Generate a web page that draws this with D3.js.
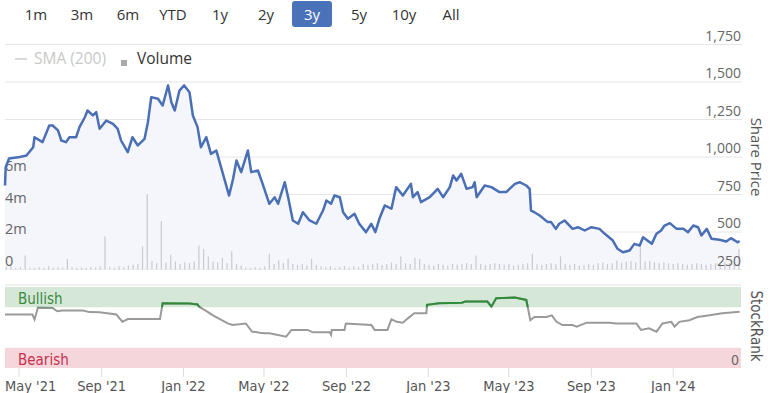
<!DOCTYPE html>
<html>
<head>
<meta charset="utf-8">
<script src="https://cdn.jsdelivr.net/npm/d3@7"></script>
<style>
  html, body { margin: 0; padding: 0; background: #fff; }
  svg { display: block; }
  .ui { font-family: "Open Sans", "Noto Sans", sans-serif; }
  .cond { font-family: "DejaVu Sans Condensed", "DejaVu Sans", sans-serif; font-stretch: condensed; }
</style>
</head>
<body>
<svg id="chart" width="770" height="393"></svg>
<script>
// ---------------- DATA ----------------
const rangeButtons = ["1m", "3m", "6m", "YTD", "1y", "2y", "3y", "5y", "10y", "All"];
const activeButton = "3y";

const priceTicks = [250, 500, 750, 1000, 1250, 1500, 1750];
const volumeTicks = [0, 2, 4, 6];          // millions
const volumeTickLabels = ["0", "2m", "4m", "6m"];
const xTickDates = ["2021-05-01", "2021-09-01", "2022-01-01", "2022-05-01", "2022-09-01",
                    "2023-01-01", "2023-05-01", "2023-09-01", "2024-01-01"];
const xTickLabels = ["May '21", "Sep '21", "Jan '22", "May '22", "Sep '22",
                     "Jan '23", "May '23", "Sep '23", "Jan '24"];

const priceDates = ["2021-04-10","2021-04-11","2021-04-16","2021-05-02","2021-05-12","2021-05-22","2021-05-24","2021-06-05","2021-06-15","2021-06-20","2021-06-28","2021-07-03","2021-07-10","2021-07-15","2021-07-25","2021-07-30","2021-08-07","2021-08-11","2021-08-19","2021-08-24","2021-08-29","2021-09-08","2021-09-18","2021-09-25","2021-09-30","2021-10-10","2021-10-17","2021-10-25","2021-11-04","2021-11-09","2021-11-14","2021-11-24","2021-12-01","2021-12-09","2021-12-14","2021-12-19","2021-12-26","2022-01-02","2022-01-10","2022-01-15","2022-01-22","2022-01-27","2022-02-04","2022-02-11","2022-02-19","2022-02-26","2022-03-10","2022-03-16","2022-03-21","2022-03-28","2022-04-07","2022-04-12","2022-04-22","2022-04-29","2022-05-09","2022-05-17","2022-05-22","2022-06-01","2022-06-06","2022-06-13","2022-06-21","2022-06-28","2022-07-08","2022-07-18","2022-07-28","2022-08-02","2022-08-09","2022-08-14","2022-08-22","2022-08-27","2022-09-03","2022-09-13","2022-09-20","2022-09-30","2022-10-08","2022-10-14","2022-10-20","2022-10-28","2022-11-07","2022-11-14","2022-11-24","2022-12-06","2022-12-09","2022-12-16","2022-12-21","2023-01-03","2023-01-15","2023-01-23","2023-02-02","2023-02-07","2023-02-12","2023-02-19","2023-02-27","2023-03-08","2023-03-11","2023-03-14","2023-03-26","2023-04-05","2023-04-17","2023-04-27","2023-05-10","2023-05-17","2023-05-27","2023-06-01","2023-06-03","2023-06-08","2023-06-16","2023-06-28","2023-07-03","2023-07-10","2023-07-15","2023-07-23","2023-08-04","2023-08-12","2023-08-22","2023-09-01","2023-09-13","2023-09-21","2023-10-03","2023-10-10","2023-10-18","2023-10-28","2023-11-04","2023-11-12","2023-11-17","2023-11-30","2023-12-07","2023-12-14","2023-12-19","2023-12-27","2024-01-06","2024-01-16","2024-01-23","2024-01-31","2024-02-07","2024-02-12","2024-02-20","2024-02-27","2024-03-10","2024-03-20","2024-03-27","2024-04-06","2024-04-09"];
const priceValues = [810,932,990,1000,1010,1065,1132,1099,1210,1210,1177,1110,1099,1132,1132,1199,1265,1310,1277,1299,1188,1243,1221,1188,1110,1032,1132,1077,1121,1232,1399,1388,1343,1477,1365,1310,1443,1477,1432,1277,1199,1065,1132,1021,1043,932,743,855,977,899,1043,899,910,821,688,732,688,832,732,577,555,632,577,555,643,710,688,743,732,632,588,621,555,499,555,499,588,677,655,799,743,821,732,766,699,732,788,732,799,877,843,888,788,799,832,732,810,799,766,766,821,832,810,788,643,632,610,566,566,521,555,577,521,532,510,532,521,488,443,388,365,377,421,410,465,421,488,510,543,559,521,521,499,543,532,477,521,455,448,437,459,432,440];

// weekly volume (millions), weeks starting at volumeStart
const volumeStart = "2021-04-12";
const volumeWeekly = [0.15,0.2,0.1,0.15,0.89,0.12,0.1,0.15,0.1,0.2,
  0.1,0.15,0.12,0.68,0.15,0.1,0.12,0.1,0.15,0.12,
  0.2,2.1,0.15,0.1,0.2,0.15,0.25,0.3,0.35,1.46,
  4.8,0.55,0.4,3.07,0.45,0.95,0.5,0.35,0.45,0.4,
  0.5,1.52,1.3,0.83,0.5,0.45,0.74,0.4,1.16,0.35,
  0.25,0.12,0.1,0.15,0.1,0.2,1.0,0.35,0.57,0.4,
  0.68,0.35,0.3,0.35,0.25,0.68,0.3,0.2,0.15,0.2,
  0.1,0.15,0.2,0.12,0.2,0.15,0.35,0.3,0.35,0.4,
  0.3,0.35,0.45,0.35,0.83,0.4,0.35,0.74,0.68,0.35,
  0.3,0.25,0.35,0.3,0.25,0.35,0.3,0.35,0.4,0.35,
  0.89,0.35,0.3,0.35,0.4,0.35,0.3,0.35,0.25,0.3,
  0.35,0.4,1.0,0.35,0.3,0.35,0.4,0.35,0.83,0.35,
  0.3,0.35,0.25,0.3,0.35,0.3,0.4,0.45,0.35,0.4,
  0.57,0.45,0.5,0.55,0.45,1.52,0.5,0.55,0.45,0.4,
  0.45,0.4,0.35,0.4,0.35,0.3,0.35,0.4,0.35,0.3,
  0.35,0.4,0.35,0.45,0.4,0.45,1.3];

const rankDates = ["2021-04-10","2021-05-21","2021-05-24","2021-05-29","2021-06-20","2021-06-27","2021-07-04","2021-08-04","2021-08-14","2021-08-29","2021-09-23","2021-10-02","2021-10-10","2021-11-27","2021-12-01","2022-01-10","2022-01-22","2022-01-25","2022-02-02","2022-02-14","2022-03-08","2022-03-15","2022-04-04","2022-04-13","2022-04-25","2022-05-02","2022-05-09","2022-06-03","2022-06-11","2022-07-05","2022-07-13","2022-08-07","2022-08-09","2022-08-10","2022-08-29","2022-08-31","2022-10-08","2022-10-13","2022-11-01","2022-11-07","2022-11-15","2022-11-24","2022-12-01","2022-12-11","2022-12-29","2022-12-30","2023-01-17","2023-02-20","2023-02-25","2023-03-30","2023-04-05","2023-04-12","2023-05-10","2023-05-27","2023-06-02","2023-06-08","2023-06-26","2023-07-04","2023-07-11","2023-07-20","2023-08-04","2023-08-10","2023-08-25","2023-09-28","2023-10-08","2023-11-07","2023-11-14","2023-11-26","2023-12-07","2023-12-16","2023-12-29","2024-01-03","2024-01-10","2024-01-25","2024-02-06","2024-02-24","2024-03-14","2024-04-09"];
const rankValues = [66,66,60,74.5,74,70,71,71,69,68.7,66,57,60.5,60.5,80,79.5,78.5,75,71.5,65,55,53,55,45,43.6,43,42.8,38.6,47,47,44,44,41,47,47,55,53,47,47,60,57,56,61,67.5,67.5,78,80,80.5,82,82,75.7,86,87,84,59,63,63,65,57,53,53,51,56,56,55,55,47,49,44.8,55,57,51,57,59,63,65,67.5,69.5];

const bullishFrom = 75, bearishTo = 25;

// ---------------- CHART ----------------
const parse = d3.timeParse("%Y-%m-%d");
const svg = d3.select("#chart");

const x = d3.scaleTime()
  .domain([parse("2021-04-10"), parse("2024-04-11")])
  .range([5, 741]);
const yPrice = d3.scaleLinear().domain([250, 1750]).range([269.5, 44.5]);
const yVol = d3.scaleLinear().domain([0, 6]).range([269.5, 175]);
const yRank = d3.scaleLinear().domain([0, 100]).range([368, 287]);

const price = priceDates.map((d, i) => ({ date: parse(d), value: priceValues[i] }));
const rank = rankDates.map((d, i) => ({ date: parse(d), value: rankValues[i] }));
const v0 = parse(volumeStart);
const volume = volumeWeekly.map((v, i) => ({ date: d3.timeDay.offset(v0, i * 7), value: v }));

// range buttons
const btnX = [36, 82, 128, 173, 220, 266, 312, 359, 404, 451];
const btnG = svg.append("g").attr("class", "ui");
rangeButtons.forEach((b, i) => {
  if (b === activeButton) {
    btnG.append("rect").attr("x", btnX[i] - 20).attr("y", 1).attr("width", 40).attr("height", 26)
      .attr("rx", 3).attr("fill", "#4a72b8");
  }
  btnG.append("text").attr("x", btnX[i]).attr("y", 19.5).attr("text-anchor", "middle")
    .attr("font-size", 15).attr("fill", b === activeButton ? "#fff" : "#333").text(b);
});

// grid lines
svg.append("g").selectAll("line").data(priceTicks).join("line")
  .attr("x1", 5).attr("x2", 742)
  .attr("y1", d => yPrice(d)).attr("y2", d => yPrice(d))
  .attr("stroke", "#e6e6e6").attr("stroke-width", 1);

// price area
const area = d3.area().x(d => x(d.date)).y0(yPrice(250)).y1(d => yPrice(d.value));
svg.append("path").datum(price).attr("d", area).attr("fill", "#f4f6fc");

// volume bars
svg.append("g").selectAll("rect").data(volume).join("rect")
  .attr("x", d => x(d.date) - 0.6).attr("width", 1.2)
  .attr("y", d => yVol(d.value)).attr("height", d => yVol(0) - yVol(d.value))
  .attr("fill", "#c9c9cf");

// volume labels
svg.append("g").attr("class", "ui").selectAll("text").data(volumeTicks).join("text")
  .attr("x", 5).attr("y", d => yVol(d) - 4)
  .attr("font-size", 14.5).attr("fill", "#666")
  .text((d, i) => volumeTickLabels[i]);

// price line
const line = d3.line().x(d => x(d.date)).y(d => yPrice(d.value));
svg.append("path").datum(price).attr("d", line)
  .attr("fill", "none").attr("stroke", "#4a6fb5").attr("stroke-width", 2.5)
  .attr("stroke-linejoin", "round");

// price axis labels
svg.append("g").attr("class", "ui").selectAll("text").data(priceTicks).join("text")
  .attr("x", 741).attr("y", d => yPrice(d) - 4).attr("text-anchor", "end")
  .attr("font-size", 14).attr("fill", "#666")
  .text(d => d3.format(",")(d));

// legend
const lg = svg.append("g").attr("class", "ui");
lg.append("line").attr("x1", 15).attr("x2", 27).attr("y1", 59).attr("y2", 59)
  .attr("stroke", "#cccccc").attr("stroke-width", 1.5);
lg.append("text").attr("x", 34).attr("y", 64).attr("font-size", 15.5).attr("fill", "#c8c8c8").text("SMA (200)");
lg.append("rect").attr("x", 121).attr("y", 60).attr("width", 6).attr("height", 6).attr("fill", "#aaaaaa");
lg.append("text").attr("x", 137).attr("y", 64).attr("font-size", 15.5).attr("fill", "#333").text("Volume");

// axis titles
svg.append("text").attr("class", "ui").attr("transform", "translate(751,157) rotate(90)")
  .attr("text-anchor", "middle").attr("font-size", 15).attr("fill", "#555").text("Share Price");
svg.append("text").attr("class", "cond").attr("transform", "translate(751,326) rotate(90)")
  .attr("text-anchor", "middle").attr("font-size", 15).attr("fill", "#555").text("StockRank");

// StockRank panel
svg.append("line").attr("x1", 5).attr("x2", 741).attr("y1", 285).attr("y2", 285)
  .attr("stroke", "#e3e3e3");
svg.append("rect").attr("x", 5).attr("width", 736)
  .attr("y", yRank(100)).attr("height", yRank(bullishFrom) - yRank(100)).attr("fill", "#d5e8d8");
svg.append("rect").attr("x", 5).attr("width", 736)
  .attr("y", yRank(bearishTo)).attr("height", yRank(0) - yRank(bearishTo)).attr("fill", "#f5d6db");
svg.append("text").attr("class", "cond").attr("x", 18).attr("y", yRank(bullishFrom) - 3)
  .attr("font-size", 15).attr("fill", "#3b8a3e").text("Bullish");
svg.append("text").attr("class", "cond").attr("x", 18).attr("y", yRank(0) - 3)
  .attr("font-size", 15).attr("fill", "#c7304f").text("Bearish");
svg.append("text").attr("class", "cond").attr("x", 739).attr("y", yRank(0) - 3)
  .attr("text-anchor", "end").attr("font-size", 14).attr("fill", "#666").text("0");

const rline = d3.line().x(d => x(d.date)).y(d => yRank(d.value));
svg.append("path").datum(rank).attr("d", rline)
  .attr("fill", "none").attr("stroke", "#9a9a9a").attr("stroke-width", 2);
svg.append("clipPath").attr("id", "bull").append("rect")
  .attr("x", 0).attr("width", 770).attr("y", 0).attr("height", yRank(bullishFrom));
svg.append("path").datum(rank).attr("d", rline).attr("clip-path", "url(#bull)")
  .attr("fill", "none").attr("stroke", "#2e8b3a").attr("stroke-width", 2);

// x axis
const xt = svg.append("g").attr("class", "cond");
xTickDates.forEach((d, i) => {
  const px = x(parse(d));
  xt.append("line").attr("x1", px).attr("x2", px).attr("y1", 368).attr("y2", 377)
    .attr("stroke", "#dcdcdc");
  const t = xt.append("text").attr("x", px).attr("y", 391).attr("text-anchor", "middle")
    .attr("font-size", 14.5).attr("fill", "#555").text(xTickLabels[i]);
  const w = t.node().getComputedTextLength();
  if (px - w / 2 < 5) t.attr("text-anchor", "start").attr("x", 5);
});
</script>
</body>
</html>
